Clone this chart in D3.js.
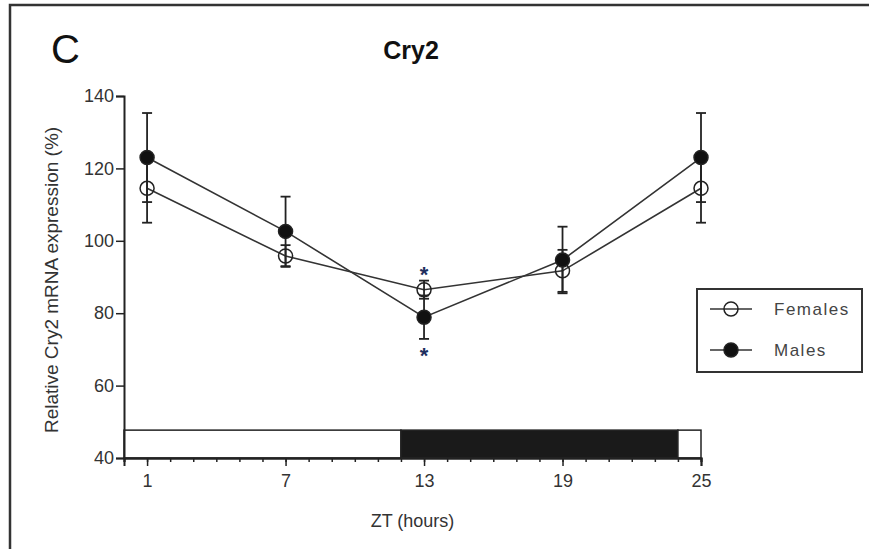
<!DOCTYPE html>
<html>
<head>
<meta charset="utf-8">
<script src="https://cdn.jsdelivr.net/npm/d3@7"></script>
<style>
  body { margin: 0; background: #fff; }
  svg text { font-family: "Liberation Sans", Arial, sans-serif; }
</style>
</head>
<body>
<svg id="chart" width="869" height="549"></svg>
<script>
// values
const zt          = [1, 7, 13, 19, 25];
const females     = [114.5, 95.8, 86.5, 91.7, 114.5];
const femalesErr  = [9.5, 3.0, 2.5, 5.8, 9.5];
const males       = [123.0, 102.6, 78.9, 94.7, 123.0];
const malesErr    = [12.3, 9.6, 6.0, 9.2, 12.3];
const yTicks      = [40, 60, 80, 100, 120, 140];
const xTicks      = [1, 7, 13, 19, 25];
const lightDark   = [{from: 0, to: 12, dark: false}, {from: 12, to: 24, dark: true}, {from: 24, to: 25, dark: false}];
const stars       = [{zt: 13, value: 91.2}, {zt: 13, value: 68.6}];
const seriesNames = ['Females', 'Males'];

const svg = d3.select('#chart');
const ink = '#222';

// panel frame
svg.append('rect')
  .attr('x', 10).attr('y', 5).attr('width', 900).attr('height', 600)
  .attr('fill', 'none').attr('stroke', '#333').attr('stroke-width', 2.5);

const x = d3.scaleLinear().domain([0, 25]).range([124, 701]);
const y = d3.scaleLinear().domain([40, 140]).range([458, 96]);

// light / dark bar
svg.append('g').selectAll('rect').data(lightDark).join('rect')
  .attr('x', d => x(d.from))
  .attr('y', y(47.7))
  .attr('width', d => x(d.to) - x(d.from))
  .attr('height', y(40) - y(47.7))
  .attr('fill', d => d.dark ? '#1a1a1a' : '#fff')
  .attr('stroke', ink).attr('stroke-width', 1.5);

// y axis
const yAxis = svg.append('g')
  .attr('transform', `translate(${x(0)},0)`)
  .call(d3.axisLeft(y).tickValues(yTicks).tickSize(8).tickPadding(2));
// x axis, minor hourly ticks then labelled major ticks
const xMinor = svg.append('g')
  .attr('transform', `translate(0,${y(40)})`)
  .call(d3.axisBottom(x).tickValues(d3.range(0, 26)).tickSize(4).tickFormat(''));
const xAxis = svg.append('g')
  .attr('transform', `translate(0,${y(40)})`)
  .call(d3.axisBottom(x).tickValues(xTicks).tickSize(8).tickPadding(8));

[yAxis, xAxis, xMinor].forEach(a => {
  a.select('.domain').attr('stroke', ink).attr('stroke-width', 2);
  a.selectAll('.tick line').attr('stroke', ink).attr('stroke-width', 1.5);
  a.selectAll('.tick text').attr('fill', '#333').style('font-size', '18px');
});

// labels
svg.append('text').attr('x', 51).attr('y', 63)
  .style('font-size', '40px').attr('fill', '#111').text('C');
svg.append('text').attr('x', 411).attr('y', 59).attr('text-anchor', 'middle')
  .style('font-size', '25px').style('font-weight', 'bold').attr('fill', '#111').text('Cry2');
svg.append('text').attr('x', x(12.5)).attr('y', 527).attr('text-anchor', 'middle')
  .style('font-size', '18px').attr('fill', '#333').text('ZT (hours)');
svg.append('text')
  .attr('transform', `translate(58,${(122 + 438) / 2}) rotate(-90)`)
  .attr('text-anchor', 'middle')
  .style('font-size', '19px').attr('fill', '#333')
  .text('Relative Cry2 mRNA expression (%)');

// series
const series = [
  {name: seriesNames[0], values: females, err: femalesErr, filled: false},
  {name: seriesNames[1], values: males, err: malesErr, filled: true}
];
const line = d3.line().x(d => x(d.zt)).y(d => y(d.v));

series.forEach(s => {
  const pts = zt.map((t, i) => ({zt: t, v: s.values[i], e: s.err[i]}));
  const g = svg.append('g');
  g.append('path').datum(pts).attr('d', line)
    .attr('fill', 'none').attr('stroke', '#333').attr('stroke-width', 1.6);
  const eb = g.selectAll('g.eb').data(pts).join('g').attr('class', 'eb');
  eb.append('line')
    .attr('x1', d => x(d.zt)).attr('x2', d => x(d.zt))
    .attr('y1', d => y(d.v - d.e)).attr('y2', d => y(d.v + d.e))
    .attr('stroke', ink).attr('stroke-width', 1.8);
  [-1, 1].forEach(sgn => {
    eb.append('line')
      .attr('x1', d => x(d.zt) - 5).attr('x2', d => x(d.zt) + 5)
      .attr('y1', d => y(d.v + sgn * d.e)).attr('y2', d => y(d.v + sgn * d.e))
      .attr('stroke', ink).attr('stroke-width', 1.8);
  });
  g.selectAll('circle').data(pts).join('circle')
    .attr('cx', d => x(d.zt)).attr('cy', d => y(d.v)).attr('r', 7)
    .attr('fill', s.filled ? '#111' : 'none')
    .attr('stroke', '#222').attr('stroke-width', 1.5);
});

// significance stars
svg.append('g').selectAll('text').data(stars).join('text')
  .attr('x', d => x(d.zt)).attr('y', d => y(d.value) + 9)
  .attr('text-anchor', 'middle')
  .style('font-size', '22px').style('font-weight', 'bold')
  .attr('fill', '#1d2f5e').text('*');

// legend
const legend = svg.append('g');
legend.append('rect')
  .attr('x', 697).attr('y', 289).attr('width', 165).attr('height', 83)
  .attr('fill', '#fff').attr('stroke', '#333').attr('stroke-width', 2);
const rows = legend.selectAll('g.row').data(series).join('g')
  .attr('class', 'row')
  .attr('transform', (d, i) => `translate(0,${309 + i * 41})`);
rows.append('line').attr('x1', 710).attr('x2', 752)
  .attr('stroke', '#333').attr('stroke-width', 1.6);
rows.append('circle').attr('cx', 731).attr('r', 7)
  .attr('fill', d => d.filled ? '#111' : 'none')
  .attr('stroke', '#222').attr('stroke-width', 1.5);
rows.append('text').attr('x', 774).attr('y', 6)
  .style('font-size', '17px').style('letter-spacing', '1.5px')
  .attr('fill', '#444').text(d => d.name);
</script>
</body>
</html>
